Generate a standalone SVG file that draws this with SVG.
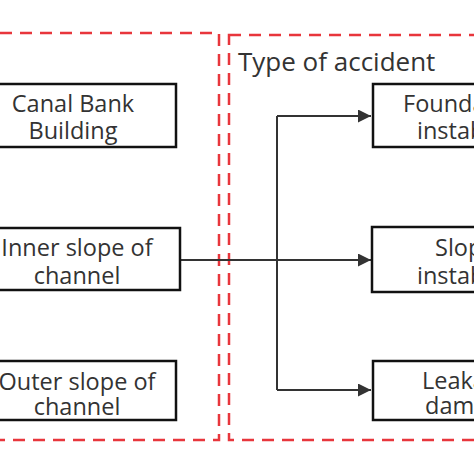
<svg xmlns="http://www.w3.org/2000/svg" width="474" height="474" viewBox="0 0 474 474">
<defs>
<style>
.frame{fill:none;stroke:#e8363c;stroke-width:2.5;stroke-dasharray:12 8}
.box{fill:#fff;stroke:#111;stroke-width:2.5}
.t{font-family:"Open Sans","Noto Sans",sans-serif;font-size:23.5px;fill:#333}
.c{text-anchor:middle}
.conn{fill:none;stroke:#333;stroke-width:2}
</style>
<marker id="arr" viewBox="0 0 10 10" refX="10" refY="5" markerWidth="17" markerHeight="13" markerUnits="userSpaceOnUse" orient="auto">
<path d="M0,0 L10,5 L0,10 z" fill="#333"/>
</marker>
</defs>
<rect width="474" height="474" fill="#fff"/>
<g id="frames">
<rect class="frame" x="-20" y="33" width="239" height="407"/>
<rect class="frame" x="229" y="35" width="260" height="405"/>
</g>
<g id="title">
<text class="t" x="238" y="71" style="font-size:26px">Type of accident</text>
</g>
<g id="connectors">
<path class="conn" d="M180,260 H371" marker-end="url(#arr)"/>
<path class="conn" d="M277,116 V390"/>
<path class="conn" d="M277,116 H371" marker-end="url(#arr)"/>
<path class="conn" d="M277,390 H371" marker-end="url(#arr)"/>
</g>
<g id="canal">
<rect class="box" x="-10" y="84" width="186" height="63"/>
<text class="t c" x="73" y="112">Canal Bank</text>
<text class="t c" x="73" y="139">Building</text>
</g>
<g id="inner">
<rect class="box" x="-10" y="228" width="190" height="62"/>
<text class="t c" x="77" y="256">Inner slope of</text>
<text class="t c" x="77" y="284">channel</text>
</g>
<g id="outer">
<rect class="box" x="-10" y="361" width="186" height="59"/>
<text class="t c" x="77" y="390">Outer slope of</text>
<text class="t c" x="77" y="415">channel</text>
</g>
<g id="foundation">
<rect class="box" x="373" y="84" width="130" height="63"/>
<text class="t" x="403" y="112">Foundation</text>
<text class="t" x="417" y="139">instability</text>
</g>
<g id="slope">
<rect class="box" x="372" y="227" width="130" height="65"/>
<text class="t" x="435" y="256">Slope</text>
<text class="t" x="417" y="284">instability</text>
</g>
<g id="leakage">
<rect class="box" x="373" y="361" width="130" height="59"/>
<text class="t" x="422" y="389">Leakage</text>
<text class="t" x="425" y="414">damage</text>
</g>
</svg>
